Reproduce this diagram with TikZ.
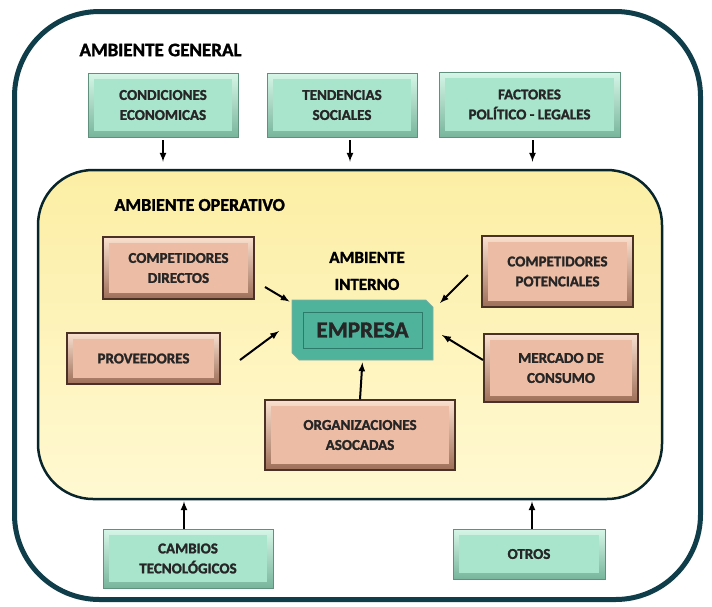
\documentclass[tikz,border=0pt]{standalone}
\usepackage{fontspec}
\setmainfont{Carlito}[BoldFeatures={FakeBold=1.6}]
\usepackage{xcolor}
\usepackage{tikz}
\usetikzlibrary{arrows,shapes.misc}

\definecolor{marco}{HTML}{0F3E4A}
\definecolor{amarillo}{HTML}{FCEEA4}
\definecolor{amarilloclaro}{HTML}{FFF9D2}
\definecolor{verdecara}{HTML}{A9E4CC}
\definecolor{verdeclaro}{HTML}{D6F6E8}
\definecolor{verdeoscuro}{HTML}{78B59C}
\definecolor{rosacara}{HTML}{EDBCA4}
\definecolor{rosaclaro}{HTML}{FAE0CF}
\definecolor{rosaoscuro}{HTML}{9E6F59}
\definecolor{rosaborde}{HTML}{4B3025}
\definecolor{empresacara}{HTML}{4FB29B}
\definecolor{empresaborde}{HTML}{2C7A69}
\definecolor{texto}{HTML}{262626}

\tikzset{
    caja/.style={rectangle, inner sep=2pt, align=center, text=texto,
        font=\fontsize{15}{20}\selectfont\bfseries,
        path picture={\fill[#1] ([shift={(6pt,6pt)}]path picture bounding box.south west)
            rectangle ([shift={(-6pt,-6pt)}]path picture bounding box.north east);}},
    verde/.style={caja=verdecara, top color=verdeclaro, bottom color=verdeoscuro,
        draw=verdeoscuro!80!black, line width=0.6pt},
    rosa/.style={caja=rosacara, top color=rosaclaro, bottom color=rosaoscuro,
        draw=rosaborde, line width=1.4pt},
    titulo/.style={text=black, font=\fontsize{19}{22}\selectfont\bfseries},
    flecha/.style={-latex, line width=2pt, black},
}

\begin{document}
\begin{tikzpicture}[x=1pt,y=-1pt]
\useasboundingbox (0,0) rectangle (712,606);

\node[draw=marco, line width=5pt, rounded corners=85pt, minimum width=686pt, minimum height=588pt]
    (general) at (357.5,305.5) {};
\node[draw=marco!60!black, line width=2.5pt, rounded corners=55pt,
    top color=amarillo, middle color=amarillo, bottom color=amarilloclaro,
    minimum width=624pt, minimum height=329pt] (operativo) at (350,334.5) {};

\node[titulo, anchor=west] (tgeneral) at (76,50) {AMBIENTE GENERAL};
\node[titulo, anchor=west, font=\fontsize{18}{22}\selectfont\bfseries] (toperativo) at (111,205) {AMBIENTE OPERATIVO};
\node[titulo, align=center, font=\fontsize{17}{27}\selectfont\bfseries] (tinterno) at (367,271) {AMBIENTE\\INTERNO};

% ambiente general
\node[verde, minimum width=150pt, minimum height=64pt] (condic) at (163,105) {CONDICIONES\\ECONOMICAS};
\node[verde, minimum width=150pt, minimum height=64pt] (tenden) at (342,105) {TENDENCIAS\\SOCIALES};
\node[verde, minimum width=181pt, minimum height=65pt] (factores) at (529.5,104.5) {FACTORES\\POLÍTICO - LEGALES};
\node[verde, minimum width=170pt, minimum height=59pt] (cambios) at (188,558.5) {CAMBIOS\\TECNOLÓGICOS};
\node[verde, minimum width=152pt, minimum height=50pt] (otros) at (529,554) {OTROS};

% ambiente operativo
\node[rosa, minimum width=151pt, minimum height=62pt] (compdir) at (178.5,268) {COMPETIDORES\\DIRECTOS};
\node[rosa, minimum width=153pt, minimum height=51pt] (proveed) at (143.5,358.5) {PROVEEDORES};
\node[rosa, minimum width=151pt, minimum height=71pt] (comppot) at (557.5,271.5) {COMPETIDORES\\POTENCIALES};
\node[rosa, minimum width=154pt, minimum height=68pt] (mercado) at (561,368) {MERCADO DE\\CONSUMO};
\node[rosa, minimum width=190pt, minimum height=70pt] (organiz) at (360,435) {ORGANIZACIONES\\ASOCADAS};

% ambiente interno
\node[chamfered rectangle, chamfered rectangle corners={north east,south west},
    chamfered rectangle xsep=4pt, fill=empresacara, draw=empresaborde!60, line width=0.8pt,
    minimum width=141pt, minimum height=60pt, text=texto,
    font=\fontsize{23}{26}\selectfont\bfseries,
    path picture={\draw[empresaborde, line width=0.8pt]
        ([shift={(11pt,12pt)}]path picture bounding box.south west)
        rectangle ([shift={(-11pt,-12pt)}]path picture bounding box.north east);}]
    (empresa) at (362.5,330) {EMPRESA};

\coordinate (cd-ini) at (265,287);
\coordinate (pr-ini) at (240,360);
\coordinate (pr-fin) at (279,331);
\coordinate (cp-ini) at (468,275);
\coordinate (cp-fin) at (440,303);
\coordinate (mc-ini) at (483,360);
\coordinate (mc-fin) at (442,335);

\draw[flecha, shorten <=3pt, shorten >=7pt] (condic.south) -- (condic.south |- operativo.north);
\draw[flecha, shorten <=3pt, shorten >=7pt] ([xshift=8pt]tenden.south) -- ([xshift=8pt]tenden.south |- operativo.north);
\draw[flecha, shorten <=3pt, shorten >=7pt] ([xshift=3pt]factores.south) -- ([xshift=3pt]factores.south |- operativo.north);
\draw[flecha, shorten >=1pt] ([xshift=-4pt]cambios.north) -- ([xshift=-4pt]cambios.north |- operativo.south);
\draw[flecha, shorten >=1pt] ([xshift=3pt]otros.north) -- ([xshift=3pt]otros.north |- operativo.south);

\draw[flecha] (cd-ini) -- ([shift={(-2pt,-2pt)}]empresa.north west);
\draw[flecha] (pr-ini) -- (pr-fin);
\draw[flecha] (cp-ini) -- (cp-fin);
\draw[flecha] (mc-ini) -- (mc-fin);
\draw[flecha, shorten >=2pt] (organiz.north) -- (empresa.south);
\end{tikzpicture}
\end{document}
